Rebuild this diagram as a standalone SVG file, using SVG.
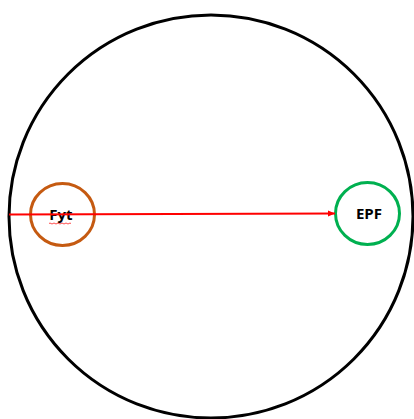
<svg xmlns="http://www.w3.org/2000/svg" width="414" height="419" viewBox="0 0 414 419">
<style>
.lbl{font-family:"Open Sans","Liberation Sans",Arial,sans-serif;font-weight:bold;font-size:15px;fill:#000;text-anchor:middle}
</style>
<defs>
<marker id="ah" markerWidth="8" markerHeight="8" refX="7" refY="4" orient="auto" markerUnits="userSpaceOnUse">
<path d="M0,1 L7,4 L0,7 Z" fill="#ff0000"/>
</marker>
</defs>
<rect width="414" height="419" fill="#fff"/>
<g id="outer"><ellipse cx="211" cy="216.5" rx="202" ry="201.5" fill="none" stroke="#000" stroke-width="3"/></g>
<g id="fyt">
<ellipse cx="62.5" cy="214.5" rx="32" ry="31" fill="none" stroke="#c55a11" stroke-width="3"/>
<text class="lbl" x="61" y="220">Fyt</text>
<path d="M49,223.5 q1,-1 2,0 t2,0 t2,0 t2,0 t2,0 t2,0 t2,0 t2,0 t2,0 t2,0 t2,0" fill="none" stroke="#ff0000" stroke-width="0.7"/>
</g>
<g id="epf">
<ellipse cx="367.5" cy="213.5" rx="32" ry="31" fill="none" stroke="#00b050" stroke-width="3"/>
<text class="lbl" x="369" y="219">EPF</text>
</g>
<g id="connectors">
<line x1="9" y1="214.5" x2="335" y2="213.5" stroke="#ff0000" stroke-width="2" marker-end="url(#ah)"/>
</g>
</svg>
